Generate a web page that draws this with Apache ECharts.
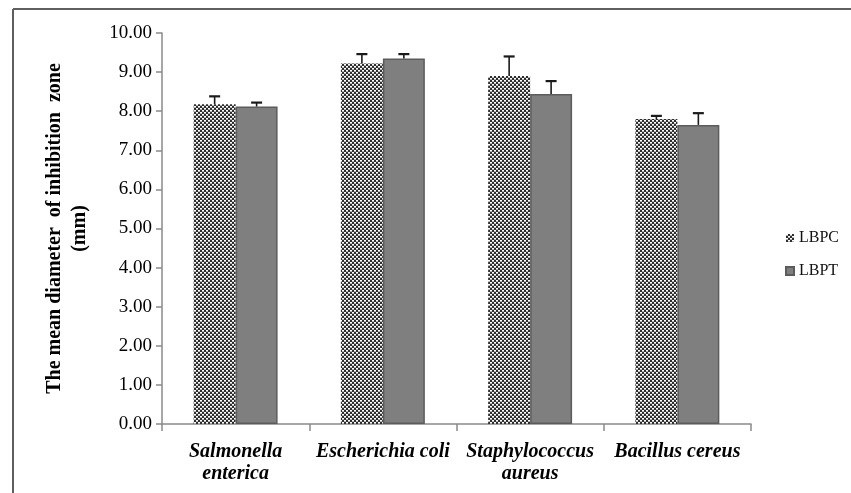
<!DOCTYPE html>
<html>
<head>
<meta charset="utf-8">
<script src="https://cdn.jsdelivr.net/npm/echarts@6/dist/echarts.min.js"></script>
<style>
  html, body { margin: 0; padding: 0; background: #fff; }
  #chart { width: 851px; height: 493px; }
</style>
</head>
<body>
<div id="chart"></div>
<script>
// Bacteria tested and the mean inhibition-zone diameters (mm)
var categories = ['Salmonella\nenterica', 'Escherichia coli', 'Staphylococcus\naureus', 'Bacillus cereus'];
var seriesNames = ['LBPC', 'LBPT'];
var lbpcValues = [8.18, 9.22, 8.90, 7.80];
var lbptValues = [8.12, 9.35, 8.44, 7.65];
var lbpcErrors = [0.20, 0.24, 0.50, 0.08];
var lbptErrors = [0.10, 0.11, 0.33, 0.30];
var yTicks = [0, 1, 2, 3, 4, 5, 6, 7, 8, 9, 10];

var SERIF = "'Times New Roman', 'Liberation Serif', serif";
var BAR_SHARE = 0.285; // each bar's share of the category band

// Checkered black/white fill used for LBPC
function makeDotPattern() {
  var c = document.createElement('canvas');
  c.width = 4; c.height = 4;
  var g = c.getContext('2d');
  g.fillStyle = '#2e2e2e';
  g.fillRect(0, 0, 4, 4);
  g.fillStyle = '#ffffff';
  g.fillRect(0, 0, 2, 1);
  g.fillRect(2, 2, 2, 1);
  g.fillStyle = '#b4b4b4';
  g.fillRect(0, 1, 2, 1);
  g.fillRect(2, 3, 2, 1);
  return c;
}
var dotPattern = { image: makeDotPattern(), repeat: 'repeat' };

function errorData(values, errors) {
  return values.map(function (v, i) { return [i, v, errors[i]]; });
}

// Upper error whisker with cap, offset to sit on its own bar
function errorRenderer(side) {
  return function (params, api) {
    var idx = api.value(0);
    var top = api.coord([idx, api.value(1)]);
    var end = api.coord([idx, api.value(1) + api.value(2)]);
    var band = api.size([1, 0])[0];
    var x = top[0] + side * band * BAR_SHARE / 2;
    var cap = 5.5;
    return {
      type: 'group',
      children: [
        { type: 'line', shape: { x1: x, y1: top[1], x2: x, y2: end[1] }, style: { stroke: '#1a1a1a', lineWidth: 1.6 } },
        { type: 'line', shape: { x1: x - cap, y1: end[1], x2: x + cap, y2: end[1] }, style: { stroke: '#1a1a1a', lineWidth: 2.2 } }
      ]
    };
  };
}

var chart = echarts.init(document.getElementById('chart'), null, { renderer: 'canvas' });

chart.setOption({
  backgroundColor: '#ffffff',
  animation: false,
  grid: { left: 162, right: 100, top: 33, bottom: 69, containLabel: false },
  graphic: [
    { type: 'line', shape: { x1: 13, y1: 9, x2: 851, y2: 9 }, style: { stroke: '#5f5f5f', lineWidth: 2 } },
    { type: 'line', shape: { x1: 13, y1: 9, x2: 13, y2: 493 }, style: { stroke: '#5f5f5f', lineWidth: 2 } }
  ],
  legend: {
    orient: 'vertical',
    left: 780,
    top: 225,
    itemWidth: 8,
    itemHeight: 8,
    itemGap: 17,
    icon: 'rect',
    data: seriesNames,
    textStyle: { fontFamily: SERIF, fontSize: 16, color: '#111' }
  },
  xAxis: {
    type: 'category',
    data: categories,
    axisLine: { lineStyle: { color: '#8a8a8a', width: 1.5 } },
    axisTick: { show: true, length: 7, lineStyle: { color: '#8a8a8a', width: 1.5 } },
    axisLabel: {
      interval: 0,
      margin: 17,
      fontFamily: SERIF,
      fontStyle: 'italic',
      fontWeight: 'bold',
      fontSize: 20,
      lineHeight: 22,
      color: '#000'
    }
  },
  yAxis: {
    type: 'value',
    min: yTicks[0],
    max: yTicks[yTicks.length - 1],
    interval: 1,
    name: 'The mean diameter  of inhibition  zone\n(mm)',
    nameLocation: 'middle',
    nameGap: 70,
    nameTextStyle: { fontFamily: SERIF, fontWeight: 'bold', fontSize: 20, lineHeight: 25, color: '#000' },
    splitLine: { show: false },
    axisLine: { show: true, lineStyle: { color: '#8a8a8a', width: 1.5 } },
    axisTick: { show: true, length: 6, lineStyle: { color: '#8a8a8a', width: 1.5 } },
    axisLabel: {
      margin: 10,
      fontFamily: SERIF,
      fontSize: 19,
      color: '#000',
      formatter: function (v) { return v.toFixed(2); }
    }
  },
  series: [
    {
      name: seriesNames[0],
      type: 'bar',
      data: lbpcValues,
      barWidth: (BAR_SHARE * 100) + '%',
      barGap: '0%',
      itemStyle: { color: dotPattern, borderWidth: 0 }
    },
    {
      name: seriesNames[1],
      type: 'bar',
      data: lbptValues,
      barWidth: (BAR_SHARE * 100) + '%',
      barGap: '0%',
      itemStyle: { color: '#7f7f7f', borderColor: '#5c5c5c', borderWidth: 1.5 }
    },
    {
      type: 'custom',
      name: 'LBPC error',
      renderItem: errorRenderer(-1),
      data: errorData(lbpcValues, lbpcErrors),
      encode: { x: 0, y: 1 },
      z: 5,
      silent: true
    },
    {
      type: 'custom',
      name: 'LBPT error',
      renderItem: errorRenderer(1),
      data: errorData(lbptValues, lbptErrors),
      encode: { x: 0, y: 1 },
      z: 5,
      silent: true
    }
  ]
});
</script>
</body>
</html>
